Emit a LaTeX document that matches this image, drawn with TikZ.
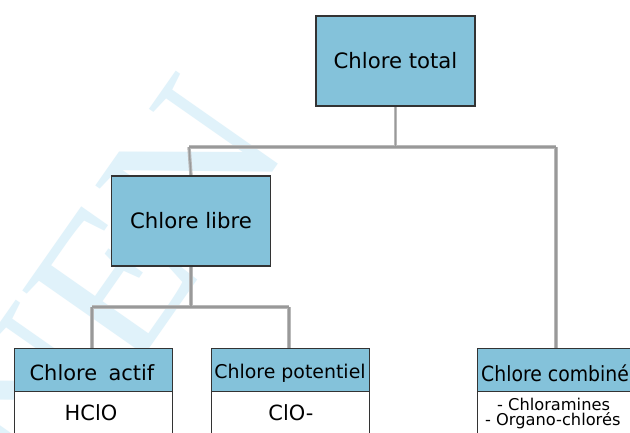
\documentclass[tikz,border=0pt]{standalone}
\usepackage{fontspec}
\usetikzlibrary{backgrounds}
\setmainfont{DejaVu Sans}
\newfontfamily\wmfont{Liberation Serif}
\begin{document}
\definecolor{boxblue}{RGB}{132,194,218}
\definecolor{boxline}{RGB}{51,51,51}
\definecolor{wmblue}{RGB}{224,242,250}
\begin{tikzpicture}[x=1bp,y=-1bp,
  box/.style={draw=boxline,line width=1.1bp,fill=boxblue,inner sep=0pt,
    minimum width=159bp,minimum height=90bp,
    font=\fontsize{21.3}{25}\selectfont},
  head/.style={draw=boxline,line width=1.1bp,fill=boxblue,inner sep=0pt,
    minimum width=158bp,minimum height=43bp,anchor=north west},
  body/.style={draw=boxline,line width=1.1bp,fill=white,inner sep=0pt,
    minimum width=158bp,minimum height=50bp,anchor=north west},
  label/.style={inner sep=0pt,font=\fontsize{21}{25}\selectfont},
  small/.style={inner sep=0pt,font=\fontsize{16.3}{19}\selectfont},
  link/.style={draw=gray!55,line width=3.4bp},
  linkcore/.style={draw=gray!80,line width=1.3bp}]
\useasboundingbox (0,0) rectangle (630,432);
\clip (0,0) rectangle (630,432);

% boxes of the tree
\node[box] (total) at (395.5,61) {Chlore total};
\node[box] (libre) at (191,221) {Chlore libre};

\node[head] (actifhead) at (14,348) {};
\node[body] (actifbody) at (14,391) {};
\node[label] (actiftxt) at (92,373) {Chlore\hspace{0.55em}actif};
\node[label] (hclo) at (91,413) {HClO};

\node[head] (pothead) at (211,348) {};
\node[body] (potbody) at (211,391) {};
\node[label,font=\fontsize{19}{22}\selectfont] (pottxt) at (290,373) {Chlore potentiel};
\node[label] (clo) at (291,413) {ClO-};

\node[head,minimum width=170bp] (combhead) at (477,348) {};
\node[body,minimum width=170bp] (combbody) at (477,391) {};
\node[label,anchor=west] (combtxt) at (481,373) {\scalebox{0.9}[1]{Chlore combiné}};
\node[small,anchor=west] (chloram) at (497,404) {- Chloramines};
\node[small,anchor=west] (organo) at (485,421) {- Organo-chlorés};

% connectors and backdrop, kept beneath the boxes
\coordinate (split1) at (395.5,147);
\coordinate (split2) at (191,307);
\begin{pgfonlayer}{background}
  \fill[white] (0,0) rectangle (630,432);
  % pale watermark lettering
  \node[text=wmblue,font=\wmfont\fontsize{210}{210}\selectfont,rotate=55,inner sep=0pt]
    (wm) at (112,283) {NEN};
  \foreach \s in {link,linkcore}{
    \draw[\s] (total.south) -- (split1);
    \draw[\s] (189,147) -- (556,147);
    \draw[\s] (189,147) -- (libre.north);
    \draw[\s] (556,147) -- (combhead.north -| 556,0);
    \draw[\s] (libre.south) -- (split2);
    \draw[\s] (92,307) -- (289,307);
    \draw[\s] (92,307) -- (actifhead.north -| 92,0);
    \draw[\s] (289,307) -- (pothead.north -| 289,0);
  }
\end{pgfonlayer}
\end{tikzpicture}
\end{document}
